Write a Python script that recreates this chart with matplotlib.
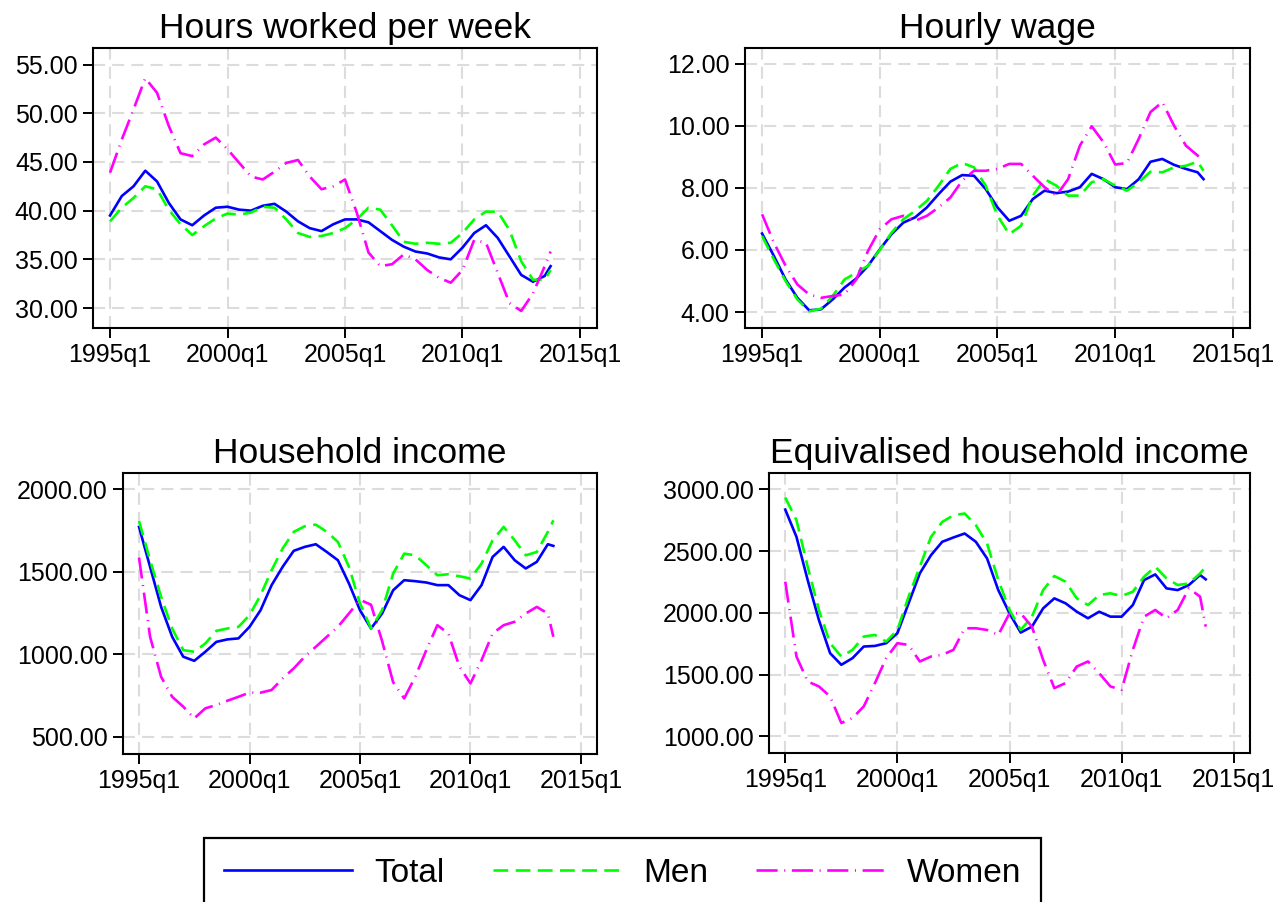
import matplotlib
matplotlib.use("Agg")
import matplotlib.pyplot as plt
from matplotlib.lines import Line2D

plt.rcParams['font.family'] = ['Liberation Sans', 'DejaVu Sans']

# ---------------- data ----------------
periods = [f"{y}q{q}" for y in range(1995, 2014) for q in (1, 3)] + ["2013q4"]

xtick_labels = ["1995q1", "2000q1", "2005q1", "2010q1", "2015q1"]

hours_total = [39.5, 41.5, 42.5, 44.1, 43.0, 40.8, 39.1, 38.5, 39.5, 40.3,
               40.4, 40.1, 40.0, 40.5, 40.7, 39.9, 38.9, 38.2, 37.9, 38.6,
               39.1, 39.1, 38.8, 37.9, 37.0, 36.3, 35.8, 35.6, 35.2, 35.0,
               36.2, 37.7, 38.5, 37.2, 35.3, 33.4, 32.7, 33.3, 34.3]
hours_men = [38.9, 40.3, 41.3, 42.5, 42.2, 40.1, 38.6, 37.5, 38.4, 39.2,
             39.7, 39.6, 39.8, 40.4, 40.3, 39.1, 37.7, 37.3, 37.4, 37.7,
             38.2, 39.1, 40.3, 40.1, 38.5, 36.8, 36.6, 36.7, 36.6, 36.7,
             37.7, 39.1, 39.9, 39.9, 38.0, 34.8, 32.9, 32.9, 33.9]
hours_women = [43.9, 47.3, 50.4, 53.6, 52.1, 48.7, 45.9, 45.6, 46.8, 47.5,
               46.3, 44.9, 43.5, 43.2, 44.0, 44.9, 45.2, 43.5, 42.2, 42.5,
               43.2, 39.8, 35.7, 34.3, 34.5, 35.5, 35.0, 33.9, 33.1, 32.6,
               33.9, 37.0, 36.7, 33.6, 30.5, 29.7, 31.5, 34.3, 35.8]

wage_total = [6.53, 5.81, 5.05, 4.46, 4.06, 4.09, 4.41, 4.79, 5.08, 5.49,
              6.02, 6.51, 6.88, 7.05, 7.37, 7.80, 8.20, 8.41, 8.39, 7.96,
              7.37, 6.94, 7.10, 7.64, 7.91, 7.83, 7.88, 8.02, 8.45, 8.28,
              8.02, 7.96, 8.28, 8.84, 8.93, 8.74, 8.61, 8.50, 8.28]
wage_men = [6.45, 5.70, 5.00, 4.41, 4.03, 4.11, 4.52, 5.05, 5.27, 5.49,
            6.00, 6.56, 6.99, 7.26, 7.58, 8.07, 8.61, 8.80, 8.66, 8.07,
            7.10, 6.51, 6.78, 7.75, 8.28, 8.07, 7.75, 7.75, 8.18, 8.28,
            8.07, 7.91, 8.18, 8.52, 8.50, 8.66, 8.71, 8.84, 8.55]
wage_women = [7.15, 6.24, 5.49, 4.89, 4.57, 4.46, 4.52, 4.57, 5.05, 5.97,
              6.67, 6.99, 7.10, 6.94, 7.10, 7.37, 7.69, 8.23, 8.55, 8.55,
              8.61, 8.77, 8.77, 8.39, 8.02, 7.75, 8.28, 9.36, 9.98, 9.47,
              8.75, 8.80, 9.58, 10.44, 10.76, 10.00, 9.36, 9.04, 8.88]

hhinc_total = [1772, 1530, 1287, 1106, 985, 960, 1015, 1075, 1090, 1096,
               1166, 1267, 1419, 1530, 1627, 1651, 1667, 1620, 1570, 1429,
               1267, 1156, 1247, 1388, 1449, 1443, 1435, 1419, 1419, 1358,
               1328, 1419, 1590, 1651, 1570, 1520, 1560, 1667, 1657]
hhinc_men = [1808, 1570, 1348, 1156, 1025, 1015, 1065, 1142, 1156, 1166,
             1237, 1358, 1510, 1641, 1742, 1776, 1786, 1742, 1681, 1530,
             1308, 1156, 1267, 1489, 1610, 1600, 1540, 1479, 1485, 1473,
             1459, 1550, 1691, 1772, 1691, 1600, 1620, 1742, 1812]
hhinc_women = [1586, 1106, 863, 742, 682, 611, 672, 692, 718, 742,
               767, 767, 783, 853, 914, 985, 1045, 1106, 1166, 1247,
               1330, 1300, 1080, 830, 732, 863, 1025, 1176, 1126, 924,
               823, 964, 1126, 1176, 1197, 1247, 1287, 1247, 1106]

eqinc_total = [2836, 2615, 2265, 1942, 1673, 1579, 1633, 1727, 1732, 1754,
               1835, 2077, 2319, 2467, 2575, 2610, 2642, 2575, 2440, 2184,
               1996, 1840, 1888, 2036, 2117, 2077, 2009, 1956, 2009, 1969,
               1969, 2063, 2265, 2311, 2198, 2184, 2225, 2306, 2271]
eqinc_men = [2933, 2750, 2373, 2023, 1754, 1646, 1700, 1808, 1821, 1767,
             1861, 2131, 2373, 2615, 2736, 2790, 2804, 2709, 2561, 2265,
             2023, 1861, 1969, 2184, 2298, 2252, 2117, 2063, 2144, 2158,
             2136, 2171, 2292, 2373, 2279, 2225, 2238, 2319, 2373]
eqinc_women = [2252, 1646, 1444, 1404, 1323, 1108, 1148, 1242, 1431, 1633,
               1754, 1740, 1606, 1646, 1660, 1700, 1875, 1875, 1861, 1821,
               1996, 1996, 1888, 1619, 1390, 1431, 1565, 1606, 1511, 1404,
               1377, 1700, 1969, 2023, 1956, 2023, 2198, 2131, 1888]

titles = ["Hours worked per week", "Hourly wage", "Household income",
          "Equivalised household income"]
series_labels = ["Total", "Men", "Women"]
yticks_hours = [30, 35, 40, 45, 50, 55]
yticks_wage = [4, 6, 8, 10, 12]
yticks_hhinc = [500, 1000, 1500, 2000]
yticks_eqinc = [1000, 1500, 2000, 2500, 3000]


def tq(s):
    y, q = s.split("q")
    return (int(y) - 1960) * 4 + int(q) - 1


x = [tq(p) for p in periods]
xticks = [tq(s) for s in xtick_labels]

# ---------------- figure ----------------
W, H = 1278, 902
fig = plt.figure(figsize=(W / 100, H / 100), dpi=100)


def rect(l, t, r, b):
    return [l / W, 1 - b / H, (r - l) / W, (b - t) / H]


panels = [
    (titles[0], (hours_total, hours_men, hours_women), yticks_hours, (27.95, 56.7), rect(93, 48, 597, 328)),
    (titles[1], (wage_total, wage_men, wage_women), yticks_wage, (3.49, 12.5), rect(745, 48, 1250, 328)),
    (titles[2], (hhinc_total, hhinc_men, hhinc_women), yticks_hhinc, (395, 2099), rect(123, 473, 597, 754)),
    (titles[3], (eqinc_total, eqinc_men, eqinc_women), yticks_eqinc, (865, 3132), rect(769, 473, 1250, 753)),
]

LW = 1.9
styles = [
    dict(color=(0, 0, 1), lw=LW, linestyle='-'),
    dict(color=(0, 1, 0), lw=LW, linestyle=(0, (5.6, 2.8))),
    dict(color=(1, 0, 1), lw=LW, linestyle=(0, (8.0, 2.5, 0.4, 2.5))),
]

for title, data, yt, ylim, r in panels:
    ax = fig.add_axes(r)
    ax.set_axisbelow(True)
    ax.grid(True, color='#dcdcdc', lw=1.5, linestyle=(0, (5.8, 3.4)))
    for vals, st in zip(data, styles):
        ax.plot(x, vals, **st)
    ax.set_xlim(137.1, 222.9)
    ax.set_ylim(*ylim)
    ax.set_xticks(xticks)
    ax.set_xticklabels(xtick_labels)
    ax.set_yticks(yt)
    ax.set_yticklabels([f"{v:.2f}" for v in yt])
    ax.tick_params(axis='both', labelsize=18, length=7, width=1.4, color='black', pad=4)
    for sp in ax.spines.values():
        sp.set_linewidth(1.5)
        sp.set_color('black')
    ax.set_title(title, fontsize=25.5, pad=7)

handles = [Line2D([], [], **st) for st in styles]
leg = fig.legend(handles, series_labels, loc='upper center',
                 bbox_to_anchor=(622.5 / W, 1 - 838 / H), ncol=3,
                 frameon=True, fancybox=False, edgecolor='black',
                 fontsize=24, handlelength=3.85, handletextpad=0.66,
                 columnspacing=1.45, borderpad=0.6, borderaxespad=0)
leg.get_frame().set_linewidth(1.6)
leg.get_frame().set_alpha(None)

fig.savefig("out.png", dpi=100)
